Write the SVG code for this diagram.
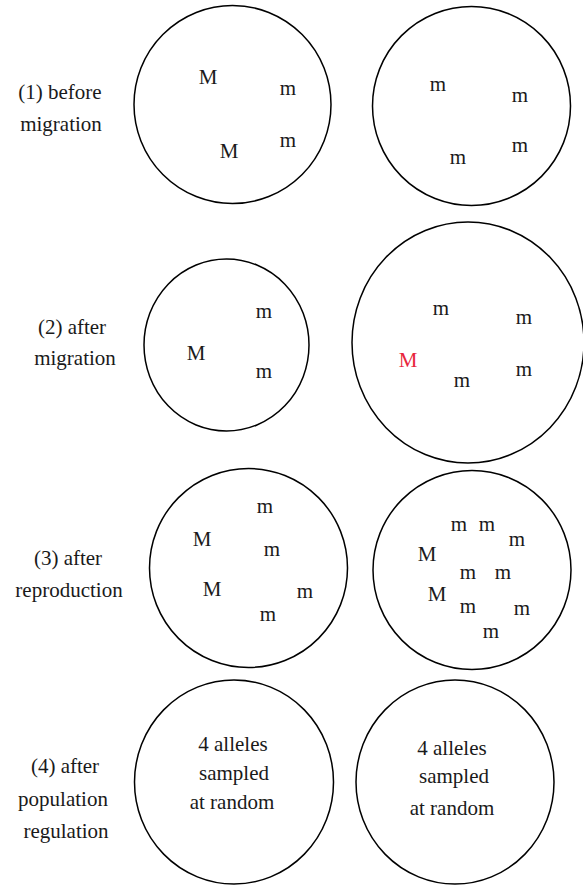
<svg xmlns="http://www.w3.org/2000/svg" width="583" height="885" viewBox="0 0 583 885">
<style>
  .pop { fill: none; stroke: #000; stroke-width: 1.5; }
  text { font-family: "Liberation Serif", "Times New Roman", serif; font-size: 21px; fill: #1a1a1a; text-anchor: middle; }
  .red { fill: #e8263c; }
</style>
<rect width="583" height="885" fill="#fff"/>

<g id="labels">
  <text x="60" y="99">(1) before</text>
  <text x="61" y="131">migration</text>
  <text x="72" y="334">(2) after</text>
  <text x="75" y="365">migration</text>
  <text x="68" y="565">(3) after</text>
  <text x="69" y="597">reproduction</text>
  <text x="65" y="773">(4) after</text>
  <text x="63" y="806">population</text>
  <text x="66" y="838">regulation</text>
</g>

<g id="row1-left">
  <ellipse class="pop" cx="232.5" cy="104.5" rx="98.5" ry="99"/>
  <text x="208" y="84">M</text>
  <text x="288" y="95">m</text>
  <text x="229" y="158">M</text>
  <text x="288" y="147">m</text>
</g>
<g id="row1-right">
  <ellipse class="pop" cx="471.5" cy="106" rx="99" ry="99.5"/>
  <text x="438" y="91">m</text>
  <text x="520" y="102">m</text>
  <text x="458" y="164">m</text>
  <text x="520" y="152">m</text>
</g>

<g id="row2-left">
  <ellipse class="pop" cx="226.5" cy="345" rx="82.5" ry="86"/>
  <text x="264" y="318">m</text>
  <text x="196" y="360">M</text>
  <text x="264" y="378">m</text>
</g>
<g id="row2-right">
  <ellipse class="pop" cx="468" cy="342.5" rx="116" ry="120.5"/>
  <text x="441" y="315">m</text>
  <text x="524" y="324">m</text>
  <text class="red" x="408" y="367">M</text>
  <text x="462" y="387">m</text>
  <text x="524" y="376">m</text>
</g>

<g id="row3-left">
  <ellipse class="pop" cx="248.5" cy="568" rx="99" ry="99.5"/>
  <text x="265" y="513">m</text>
  <text x="202" y="546">M</text>
  <text x="272" y="556">m</text>
  <text x="212" y="596">M</text>
  <text x="305" y="598">m</text>
  <text x="268" y="621">m</text>
</g>
<g id="row3-right">
  <ellipse class="pop" cx="472" cy="570" rx="99" ry="99.5"/>
  <text x="459" y="531">m</text>
  <text x="487" y="531">m</text>
  <text x="517" y="546">m</text>
  <text x="427" y="561">M</text>
  <text x="468" y="579">m</text>
  <text x="503" y="579">m</text>
  <text x="437" y="601">M</text>
  <text x="468" y="613">m</text>
  <text x="522" y="615">m</text>
  <text x="491" y="638">m</text>
</g>

<g id="row4-left">
  <ellipse class="pop" cx="234" cy="782" rx="99.5" ry="102"/>
  <text x="233" y="751">4 alleles</text>
  <text x="234" y="780">sampled</text>
  <text x="232" y="809">at random</text>
</g>
<g id="row4-right">
  <ellipse class="pop" cx="455" cy="782" rx="99" ry="102"/>
  <text x="452" y="755">4 alleles</text>
  <text x="454" y="783">sampled</text>
  <text x="452" y="815">at random</text>
</g>

<g id="connectors"></g>
</svg>
